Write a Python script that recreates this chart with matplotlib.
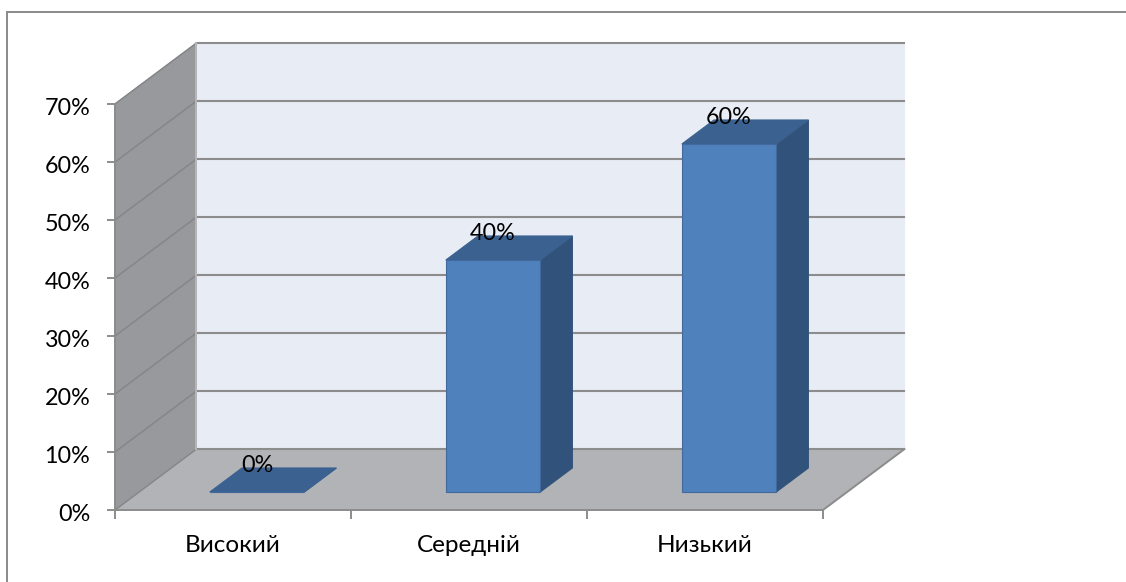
import matplotlib
matplotlib.use('Agg')
import matplotlib.pyplot as plt
from matplotlib.patches import Polygon
from matplotlib.lines import Line2D
from matplotlib.ticker import FuncFormatter
from matplotlib.transforms import ScaledTranslation

plt.rcParams['font.family'] = ['Lato', 'Noto Sans', 'DejaVu Sans']

# data
categories = ['Високий', 'Середній', 'Низький']
values = [0, 40, 60]
value_labels = ['0%', '40%', '60%']
y_ticks = [0, 10, 20, 30, 40, 50, 60, 70]

W, H = 1126, 582
FS = 16.8
fig = plt.figure(figsize=(W / 100, H / 100), dpi=100)
# chart frame runs off the right and bottom of the picture
fig.add_artist(Line2D([7.5 / W, 7.5 / W, 1], [0, 1 - 11.5 / H, 1 - 11.5 / H], transform=fig.transFigure,
                      color='#8a8a8a', lw=1.4, zorder=-1, solid_joinstyle='miter'))

# front plane of the 3d box, back of box is reached with dx, dy
ax = fig.add_axes([115 / W, 1 - 510 / H, 708 / W, 406 / H])
ax.set_xlim(0, 3)
ax.set_ylim(0, 70)
ax.patch.set_visible(False)
dx = 0.345
dy = 10.5


def proj(x, v, d):
    # oblique projection, d=0 front, d=1 back
    return (x + d * dx, v + d * dy)


def face(pts, fc, ec=None, lw=0.8, z=2):
    ax.add_patch(Polygon([proj(*p) for p in pts], closed=True, fc=fc, ec=ec if ec else fc,
                         lw=lw, clip_on=False, zorder=z))


grid_c = '#8c8c8c'
# walls and floor
face([(0, 0, 1), (3, 0, 1), (3, 70, 1), (0, 70, 1)], '#e8ecf5', z=1)
face([(0, 0, 0), (0, 0, 1), (0, 70, 1), (0, 70, 0)], '#98999d', z=1)
face([(0, 0, 0), (3, 0, 0), (3, 0, 1), (0, 0, 1)], '#b1b3b6', z=1)

# gridlines, diagonal part on the side wall is thinner
for v in y_ticks:
    x0, y0 = proj(0, v, 0)
    x1, y1 = proj(0, v, 1)
    x2, y2 = proj(3, v, 1)
    ax.plot([x0, x1], [y0, y1], color='#85868a', lw=1.1, clip_on=False, zorder=1.5)
    ax.plot([x1, x2], [y1, y2], color=grid_c, lw=1.5, clip_on=False, zorder=1.5)
x0, y0 = proj(3, 0, 0)
x1, y1 = proj(3, 0, 1)
ax.plot([x0, x1], [y0, y1], color=grid_c, lw=1.4, clip_on=False, zorder=1.5)
x1, y1 = proj(0, 0, 1)
x2, y2 = proj(0, 70, 1)
ax.plot([x1, x2], [y1, y2], color='#b4b6ba', lw=1.4, clip_on=False, zorder=1.5)

# bars
for i, v in enumerate(values):
    l = i + 0.5 - 0.2
    r = i + 0.5 + 0.2
    near, far = 0.295, 0.69
    face([(r, 0, near), (r, 0, far), (r, v, far), (r, v, near)], '#31527a', z=3)
    face([(l, v, near), (r, v, near), (r, v, far), (l, v, far)], '#3a6190', z=3)
    face([(l, 0, near), (r, 0, near), (r, v, near), (l, v, near)], '#4f81bd', ec='#41699c', z=4)
    ax.annotate(value_labels[i], proj(i + 0.5, v, near), xytext=(0, 19), textcoords='offset points',
                ha='center', va='center', fontsize=FS, color='black', zorder=6,
                annotation_clip=False)

for s in ['top', 'right']:
    ax.spines[s].set_visible(False)
for s in ['left', 'bottom']:
    ax.spines[s].set_color(grid_c)
    ax.spines[s].set_linewidth(1.4)

ax.set_yticks(y_ticks)
ax.yaxis.set_major_formatter(FuncFormatter(lambda v, p: '%d%%' % v))
ax.set_xticks([0, 1, 2, 3])
ax.set_xticklabels([])
ax.set_xticks([0.5, 1.5, 2.5], minor=True)
ax.set_xticklabels(categories, minor=True)
ax.tick_params(axis='x', which='major', length=6.5, width=1.4, color=grid_c)
ax.tick_params(axis='x', which='minor', length=0, pad=18, labelsize=17.5)
ax.tick_params(axis='y', length=5.8, width=1.4, color=grid_c, labelsize=FS, pad=12)

# y labels sit a little under their ticks
for lab in ax.get_yticklabels():
    lab.set_transform(lab.get_transform() + ScaledTranslation(0, -2 / 72, fig.dpi_scale_trans))

fig.savefig('out.png', dpi=100)
